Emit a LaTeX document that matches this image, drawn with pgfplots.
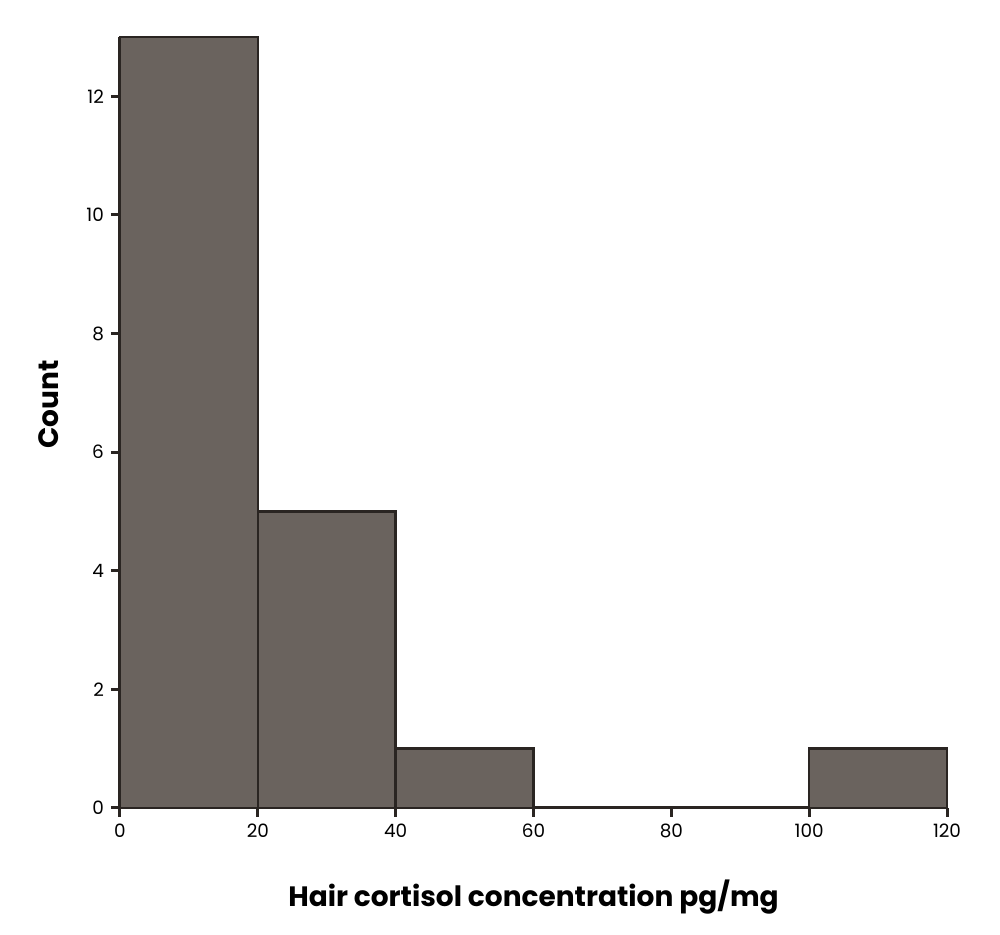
\documentclass[border=0pt]{standalone}
\usepackage{fontspec}
\setmainfont{Poppins}
\usepackage{pgfplots}
\pgfplotsset{compat=1.18}
\definecolor{barfill}{HTML}{6A635E}
\definecolor{baredge}{HTML}{2A2522}
\begin{document}
\begin{tikzpicture}
\path[use as bounding box] (-60pt,-63.5pt) rectangle (440pt,404pt);
\begin{axis}[
  at={(0,0)}, anchor=south west,
  width=413.5pt, height=385.5pt, scale only axis,
  xmin=0, xmax=120, ymin=0, ymax=13,
  axis lines*=left,
  axis line style={line width=1.5pt, color=baredge},
  xtick={0,20,...,120}, ytick={0,2,...,12},
  tick align=outside, major tick length=4.5pt,
  tick style={line width=1.5pt, color=baredge},
  /pgf/number format/assume math mode=true,
  tick label style={font=\fontsize{9.2}{11}\selectfont},
  xlabel={\bfseries Hair cortisol concentration pg/mg},
  ylabel={\bfseries Count},
  label style={font=\fontsize{14}{16}\selectfont},
  xlabel style={yshift=-14pt},
  ylabel style={yshift=7pt, xshift=9pt},
  clip=false,
]
\addplot[ybar interval, fill=barfill, draw=baredge, line width=1.3pt]
  coordinates {(0,13) (20,5) (40,1) (60,0) (80,0) (100,1) (120,1)};
\end{axis}
\end{tikzpicture}
\end{document}
